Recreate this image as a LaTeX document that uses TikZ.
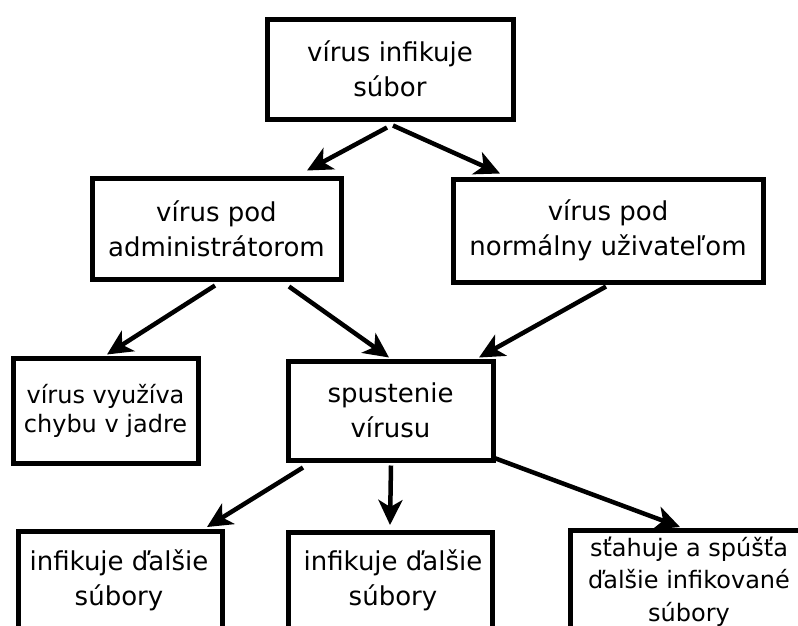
\documentclass[tikz,border=0pt]{standalone}
\usepackage{fontspec}
\setmainfont{DejaVu Sans}
\usetikzlibrary{arrows.meta,calc}
\begin{document}
\begin{tikzpicture}[x=1pt,y=-1pt,
  box/.style={draw, line width=5pt, rectangle, inner sep=0pt, align=center,
              font=\fontsize{26}{35}\selectfont},
  smallbox/.style={box, font=\fontsize{24}{29}\selectfont},
  frame/.style={draw, line width=5pt, rectangle, inner sep=0pt, anchor=north,
                minimum height=160pt},
  label26/.style={inner sep=0pt, align=center, font=\fontsize{26}{35}\selectfont},
  label24/.style={inner sep=0pt, align=center, font=\fontsize{24}{32.5}\selectfont},
  flow/.style={line width=4.5pt, -{Stealth[length=25pt,width=24pt,inset=7pt]}}
  ]
\useasboundingbox (0,0) rectangle (798,625);
\clip (0,0) rectangle (798,625);

% upper levels
\node[box, minimum width=246pt, minimum height=100pt] (top) at (390,69) {vírus infikuje\\súbor};
\node[box, minimum width=249pt, minimum height=101pt] (admin) at (216.5,228.5) {vírus pod\\administrátorom};
\node[box, minimum width=310pt, minimum height=103pt] (user) at (608,230.5) {vírus pod\\normálny uživateľom};
\node[smallbox, minimum width=185pt, minimum height=105pt] (kernel) at (105.5,410.5) {vírus využíva\\chybu v jadre};
\node[box, minimum width=205pt, minimum height=99pt] (run) at (390.5,410.5) {spustenie\\vírusu};

% bottom level, running past the lower edge
\node[frame, minimum width=204pt] (infA) at (120,529) {};
\node[label26] (infAt) at (119,580.5) {infikuje ďalšie\\súbory};
\node[frame, minimum width=204pt] (infB) at (390,530) {};
\node[label26] (infBt) at (393,580.5) {infikuje ďalšie\\súbory};
\node[frame, minimum width=238pt] (dl) at (689,528) {};
\node[label24] (dlt) at (689,581.5) {sťahuje a spúšťa\\ďalšie infikované\\súbory};

% connectors
\draw[flow] ($(top.south)+(-3,6)$) -- ($(admin.north)+(90.5,-5)$);
\draw[flow] ($(top.south)+(3,4)$) -- ($(user.north)+(-108,-3)$);
\draw[flow] ($(admin.south)+(-1.5,4)$) -- ($(kernel.north)+(1.5,-1)$);
\draw[flow] ($(admin.south)+(72.5,5)$) -- ($(run.north)+(-1.5,-1)$);
\draw[flow] ($(user.south)+(-2,2)$) -- ($(run.north)+(88.5,-1)$);
\draw[flow] ($(run.south)+(-87.5,5)$) -- ($(infA.north)+(87,-2)$);
\draw[flow] ($(run.south)+(0.5,3)$) -- ($(infB.north)+(0,-5)$);
\draw[flow] ($(run.south)+(102.5,-5)$) -- ($(dl.north)+(-9,-1)$);
\end{tikzpicture}
\end{document}
